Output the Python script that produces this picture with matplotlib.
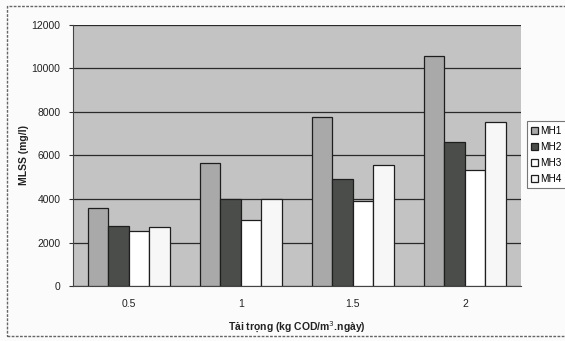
import matplotlib
matplotlib.use("Agg")
import matplotlib.pyplot as plt
from matplotlib.patches import Rectangle
import numpy as np

categories = ["0.5", "1", "1.5", "2"]
series_names = ["MH1", "MH2", "MH3", "MH4"]
mh1 = [3570, 5650, 7780, 10550]
mh2 = [2760, 4000, 4900, 6630]
mh3 = [2540, 3030, 3910, 5330]
mh4 = [2710, 4000, 5560, 7520]
y_ticks = [0, 2000, 4000, 6000, 8000, 10000, 12000]

series = [mh1, mh2, mh3, mh4]
colors = ["#a9a9a9", "#4b4d4b", "#ffffff", "#f7f7f7"]

plt.rcParams["font.family"] = ["Liberation Sans", "DejaVu Sans"]

fig = plt.figure(figsize=(5.65, 3.41), dpi=100)
fig.patch.set_facecolor("#fbfbfb")
ax = fig.add_axes([0.129, 0.161, 0.793, 0.766])
ax.set_facecolor("#c3c3c3")

x = np.arange(len(categories))
width = 0.183
for i, (name, vals, c) in enumerate(zip(series_names, series, colors)):
    offs = (i - 1.5) * width
    ax.bar(x + offs, vals, width, color=c, edgecolor="#1e1e1e", linewidth=0.9,
           label=name, zorder=3)

ax.set_xlim(-0.5, len(categories) - 0.5)
ax.set_ylim(0, 12000)
ax.set_yticks(y_ticks)
ax.set_yticklabels([str(v) for v in y_ticks], fontsize=7.5, color="#222222")
ax.set_xticks(x)
ax.set_xticklabels(categories, fontsize=7.5, color="#222222")
ax.yaxis.grid(True, color="#2a2a2a", linewidth=0.9, zorder=1)
ax.set_axisbelow(True)
ax.tick_params(axis="x", length=0, pad=9)
ax.tick_params(axis="y", length=3, width=0.8, color="#333333", pad=6)
for s in ["top", "right"]:
    ax.spines[s].set_visible(False)
ax.spines["left"].set_color("#444444")
ax.spines["bottom"].set_color("#444444")

ax.set_ylabel("MLSS (mg/l)", fontsize=7.5, fontweight="bold", color="#222222", labelpad=2)
ax.set_xlabel("Tải trọng (kg COD/m$^{3}$.ngày)", fontsize=7.5, fontweight="bold",
              color="#222222", labelpad=8)

leg = fig.legend(loc="upper left", bbox_to_anchor=(0.932, 0.645), fontsize=7.2,
                 frameon=True, fancybox=False, edgecolor="#555555",
                 handlelength=0.7, handleheight=0.7, handletextpad=0.25,
                 labelspacing=0.6, borderpad=0.45, borderaxespad=0.0)
leg.get_frame().set_linewidth(0.8)

fig.patches.append(Rectangle((0.013, 0.015), 1.2, 0.967, transform=fig.transFigure,
                             fill=False, edgecolor="#666666", linewidth=1.0,
                             linestyle=(0, (2, 1))))

fig.savefig("out.png", dpi=100)
